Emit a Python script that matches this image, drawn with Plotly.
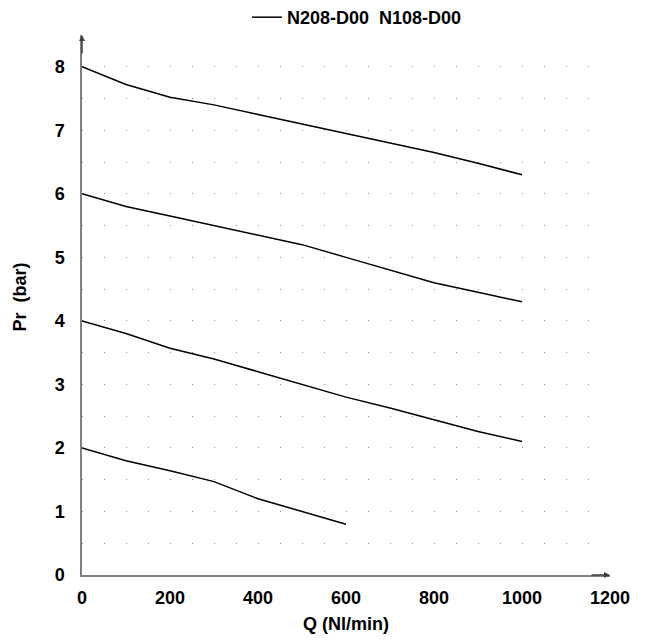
import plotly.graph_objects as go

flow = [0, 100, 200, 300, 400, 500, 600, 700, 800, 900, 1000]
pr_8 = [8.0, 7.72, 7.52, 7.40, 7.25, 7.10, 6.95, 6.80, 6.65, 6.48, 6.30]
pr_6 = [6.0, 5.80, 5.65, 5.50, 5.35, 5.20, 5.00, 4.80, 4.60, 4.45, 4.30]
pr_4 = [4.0, 3.80, 3.57, 3.40, 3.20, 3.00, 2.80, 2.63, 2.44, 2.26, 2.10]
flow_2 = [0, 100, 200, 300, 400, 500, 600]
pr_2 = [2.0, 1.80, 1.64, 1.47, 1.20, 1.00, 0.80]

legend_name = "N208-D00\u00a0\u00a0N108-D00"
x_ticks = [0, 200, 400, 600, 800, 1000, 1200]
y_ticks = [0, 1, 2, 3, 4, 5, 6, 7, 8]
x_title = "Q (Nl/min)"
y_title = "Pr\u00a0\u00a0(bar)"

FONT = "Liberation Sans, Arial, sans-serif"
FS = 18

fig = go.Figure()
series = [(flow, pr_8), (flow, pr_6), (flow, pr_4), (flow_2, pr_2)]
for i, (xs, ys) in enumerate(series):
    fig.add_trace(go.Scatter(
        x=xs, y=ys, mode="lines",
        line=dict(color="black", width=1.5),
        name=legend_name, showlegend=(i == 0),
        hoverinfo="skip",
    ))

grid_style = dict(gridcolor="#8a8a8a", gridwidth=1, griddash="1px,21px")

fig.update_layout(
    width=645, height=641,
    margin=dict(l=74, r=43, t=27, b=74, autoexpand=False),
    paper_bgcolor="white", plot_bgcolor="white",
    font=dict(family=FONT, size=FS, color="black"),
    showlegend=True,
    legend=dict(
        orientation="h", x=0.541, xanchor="center", xref="container",
        y=1.0667, yanchor="top", yref="paper",
        font=dict(family=FONT, size=FS, color="black", weight="bold"),
        bgcolor="rgba(0,0,0,0)",
    ),
    xaxis=dict(
        range=[0, 1200], tickvals=x_ticks, ticks="", showgrid=False,
        zeroline=False, showline=True, linecolor="#808080", linewidth=1.5,
        tickfont=dict(family=FONT, size=FS, weight="bold"),
        ticklabelstandoff=6,
        title=dict(text=x_title, standoff=10,
                   font=dict(family=FONT, size=FS, weight="bold")),
        automargin=False,
        fixedrange=True,
    ),
    yaxis=dict(
        range=[0, 8.5], tickvals=y_ticks, ticks="",
        showgrid=True, **grid_style,
        minor=dict(dtick=0.5, tick0=0, showgrid=True, **grid_style),
        zeroline=False, showline=True, linecolor="#808080", linewidth=1.5,
        tickfont=dict(family=FONT, size=FS, weight="bold"),
        ticklabelstandoff=12,
        automargin=False,
        fixedrange=True,
    ),
)

fig.add_annotation(x=0, y=0.514, xref="paper", yref="paper", xshift=-62,
                   text=y_title, textangle=-90, showarrow=False,
                   xanchor="center", yanchor="middle",
                   font=dict(family=FONT, size=FS, weight="bold", color="black"))

# axis arrowheads
fig.add_annotation(x=1, y=0, xref="paper", yref="paper", ax=-20, ay=0,
                   showarrow=True, arrowhead=2, arrowsize=0.8, arrowwidth=1.5,
                   arrowcolor="#404040", text="")
fig.add_annotation(x=0, y=1, xref="paper", yref="paper", ax=0, ay=20,
                   showarrow=True, arrowhead=2, arrowsize=0.8, arrowwidth=1.5,
                   arrowcolor="#404040", text="")

fig.write_html("out.html")
